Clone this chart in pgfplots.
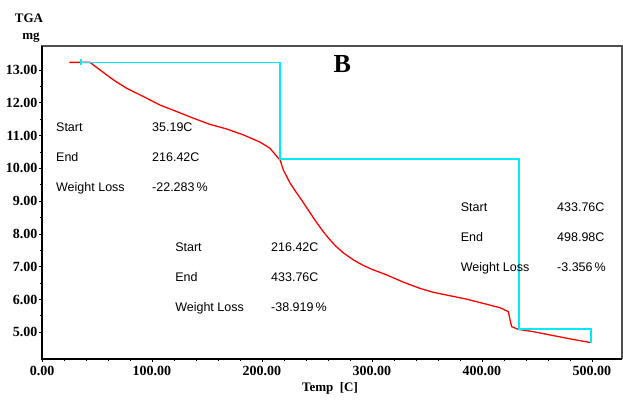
\documentclass[border=0pt]{standalone}
\usepackage{fontspec}
\setmainfont{Liberation Serif}
\newfontfamily\annot{Liberation Sans}
\usepackage{pgfplots}
\pgfplotsset{compat=1.18}
\usetikzlibrary{calc}
\definecolor{tgared}{RGB}{255,0,0}
\definecolor{stepcyan}{RGB}{0,235,250}
\definecolor{boxgray}{RGB}{80,80,80}

\begin{document}
\begin{tikzpicture}
\begin{axis}[
  scale only axis, width=580pt, height=312.7pt,
  xmin=0, xmax=527.3, ymin=4.195, ymax=13.73,
  xtick={0,100,...,500}, ytick={5,6,...,13},
  minor x tick num=4, minor y tick num=1,
  tick align=outside, tick pos=left,
  major tick length=3pt, minor tick length=2pt,
  tick style={black, line width=0.8pt},
  /pgf/number format/assume math mode=true,
  /pgf/number format/.cd, fixed, fixed zerofill, precision=2, /pgfplots/.cd,
  ticklabel style={font=\bfseries\fontsize{14}{14}\selectfont},
  xticklabel style={yshift=-1pt},
  yticklabel style={xshift=2pt},
  axis line style={boxgray, line width=1.2pt},
  clip=false,
]
% TGA curve (mg vs temperature)
\addplot[tgared, line width=1.3pt] coordinates {
  (24.8,13.23) (43.6,13.23) (52.7,13.00) (64.8,12.70) (77.0,12.44)
  (92.1,12.19) (107.3,11.93) (122.5,11.73) (137.5,11.53) (152.7,11.34)
  (167.9,11.20) (183.0,11.02) (198.2,10.80) (207.3,10.61) (214.8,10.31)
  (216.4,10.26) (219.4,9.95) (225.5,9.55) (231.5,9.25) (237.5,8.96)
  (243.0,8.68) (249.0,8.38) (255.0,8.10) (261.0,7.85) (267.0,7.63)
  (274.0,7.42) (283.0,7.21) (292.0,7.04) (300.0,6.92) (313.3,6.75)
  (328.5,6.53) (343.6,6.34) (355.7,6.22) (386.1,6.01)
  (416.4,5.75) (424.0,5.63) (425.5,5.38) (427.0,5.17) (433.0,5.09)
  (446.6,5.02) (476.9,4.82) (498.2,4.69)
};
% step markers of the weight-loss regions
\addplot[stepcyan, line width=1.7pt] coordinates {
  (35.19,13.15) (35.19,13.33) (35.19,13.23) (216.42,13.23) (216.42,10.28)
  (433.76,10.28) (433.76,5.10) (498.98,5.10) (498.98,4.67)
};
\draw[black, line width=1.8pt] (rel axis cs:0,1) -- (rel axis cs:0,0) -- (rel axis cs:1,0);

\node[font=\bfseries\fontsize{26}{26}\selectfont] at (axis cs:273,13.18) {B};

\begin{scope}[every node/.style={anchor=base west, font=\annot\fontsize{12.5}{12.5}\selectfont, inner sep=0pt}]
\node at (axis cs:12.7,11.12) {Start};
\node at (axis cs:12.7,10.21) {End};
\node at (axis cs:12.7,9.29) {Weight Loss};
\node at (axis cs:100,11.12) {35.19C};
\node at (axis cs:100,10.21) {216.42C};
\node at (axis cs:100,9.29) {-22.283\,\%};
\node at (axis cs:121,7.47) {Start};
\node at (axis cs:121,6.54) {End};
\node at (axis cs:121,5.63) {Weight Loss};
\node at (axis cs:208.2,7.47) {216.42C};
\node at (axis cs:208.2,6.54) {433.76C};
\node at (axis cs:208.2,5.63) {-38.919\,\%};
\node at (axis cs:380.6,8.69) {Start};
\node at (axis cs:380.6,7.77) {End};
\node at (axis cs:380.6,6.85) {Weight Loss};
\node at (axis cs:468.2,8.69) {433.76C};
\node at (axis cs:468.2,7.77) {498.98C};
\node at (axis cs:468.2,6.85) {-3.356\,\%};
\end{scope}
\end{axis}
\node[font=\bfseries\fontsize{13}{13}\selectfont] at ($(current axis.north west)+(-13pt,28pt)$) {TGA};
\node[font=\bfseries\fontsize{13}{13}\selectfont] at ($(current axis.north west)+(-11pt,8pt)$) {mg};
\node[font=\bfseries\fontsize{13}{13}\selectfont] at ($(current axis.south west)+(288pt,-30pt)$) {Temp\ \ [C]};
\pgfresetboundingbox
\path[use as bounding box] ($(current axis.south west)+(-42pt,-41.3pt)$) rectangle ($(current axis.north east)+(1pt,46pt)$);
\end{tikzpicture}
\end{document}
